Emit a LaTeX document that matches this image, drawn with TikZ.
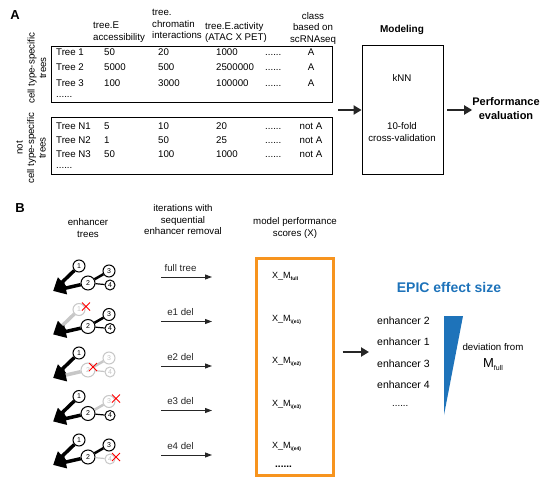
\documentclass[tikz,border=0pt]{standalone}
\usepackage{fontspec}
\setsansfont{Liberation Sans}
\usetikzlibrary{arrows.meta,shapes.misc}

\definecolor{epicorange}{RGB}{247,148,30}
\definecolor{epicblue}{RGB}{30,115,186}
\colorlet{gone}{black!22}

\tikzset{
  enh/.style={circle,draw,fill=white,line width=1pt,inner sep=0pt,
    minimum size=12pt,font=\sffamily\fontsize{7}{7}\selectfont},
  stem/.style={line width=3.5pt,-{Triangle[length=13pt,width=12pt,black]}},
  delx/.style={cross out,draw=red,line width=1pt,minimum size=7pt,inner sep=0pt},
  cell/.style={anchor=west,inner sep=0pt,text height=7pt,text depth=2pt},
  box/.style={draw,line width=0.8pt,inner sep=0pt},
  bigarrow/.style={line width=2pt,black!85,-{Triangle[length=8pt,width=9pt]}},
  flow/.style={line width=1pt,black!85,-{Triangle[length=7pt,width=5pt]}},
  head/.style={align=center,inner sep=0pt},
}

% name, y of enhancer 2, colours of enhancers 1-4
\newcommand\enhtree[6]{%
  \node[enh,draw=#3,text=#3] (#1-1) at (79,{#2-17}) {1};
  \node[enh,minimum size=14pt,draw=#4,text=#4] (#1-2) at (88,#2) {2};
  \node[enh,draw=#5,text=#5] (#1-3) at (109,{#2-12}) {3};
  \node[enh,minimum size=10pt,draw=#6,text=#6] (#1-4) at (110,{#2+2}) {4};
  \coordinate (#1-tip) at (53,{#2+8});
  \draw[stem,#3] (#1-1) -- (#1-tip);
  \draw[stem,#4] (#1-2) -- (#1-tip);
  \draw[line width=2.5pt,#5] (#1-2) -- (#1-3);
  \draw[line width=1.2pt,#6] (#1-2) -- (#1-4);
}
\newcommand\subm[1]{\raisebox{-2pt}{\fontsize{5}{5}\selectfont\bfseries #1}}

\begin{document}
\begin{tikzpicture}[x=1pt,y=-1pt,>=Latex,font=\sffamily\fontsize{9.7}{11.5}\selectfont]
\useasboundingbox (0,0) rectangle (547,495);

% ---- A ----
\node[font=\sffamily\bfseries\fontsize{13}{13}\selectfont] (lblA) at (15,15) {A};
\node[head,anchor=north west,align=left] (hacc) at (93,22) {tree.E\\accessibility};
\node[head,anchor=north west,align=left] (hchr) at (152,9.5) {tree.\\chromatin\\interactions};
\node[head,anchor=north west,align=left] (hact) at (205,22) {tree.E.activity\\(ATAC X PET)};
\node[head] (hcls) at (313,28) {class\\based on\\scRNAseq};

\node[box,minimum width=281pt,minimum height=56pt,anchor=north west] (posbox) at (51,46) {};
\node[box,minimum width=281pt,minimum height=57pt,anchor=north west] (negbox) at (51,117) {};
\node[rotate=90,head] (poslab) at (37,68) {cell type-specific\\trees};
\node[rotate=90,head] (neglab) at (31,148) {not\\cell type-specific\\trees};

\foreach \name/\acc/\chr/\act/\cls [count=\i] in {Tree 1/50/20/1000/A,
    Tree 2/5000/500/2500000/A,Tree 3/100/3000/100000/A}{
  \pgfmathsetmacro{\yr}{53+15.5*(\i-1)}
  \node[cell] (p\i-n) at (56,\yr) {\name};
  \node[cell] (p\i-a) at (104,\yr) {\acc};
  \node[cell] (p\i-b) at (158,\yr) {\chr};
  \node[cell] (p\i-c) at (216,\yr) {\act};
  \node[cell] (p\i-d) at (265,\yr) {......};
  \node[cell,anchor=center] (p\i-e) at (311,\yr) {\cls};
}
\node[cell] (pdots) at (56,95) {......};
\foreach \name/\acc/\chr/\act/\cls [count=\i] in {Tree N1/5/10/20/not A,
    Tree N2/1/50/25/not A,Tree N3/50/100/1000/not A}{
  \pgfmathsetmacro{\yr}{127+14*(\i-1)}
  \node[cell] (n\i-n) at (56,\yr) {\name};
  \node[cell] (n\i-a) at (104,\yr) {\acc};
  \node[cell] (n\i-b) at (158,\yr) {\chr};
  \node[cell] (n\i-c) at (216,\yr) {\act};
  \node[cell] (n\i-d) at (265,\yr) {......};
  \node[cell,anchor=center] (n\i-e) at (311,\yr) {\cls};
}
\node[cell] (ndots) at (56,166) {......};

\node[font=\sffamily\bfseries\fontsize{10}{12}\selectfont] (modlab) at (402,30) {Modeling};
\node[box,minimum width=81pt,minimum height=129pt] (model) at (402.5,109.5) {};
\node (knn) at (402,78) {kNN};
\node[head] (cv) at (402,132) {10-fold\\cross-validation};
\node[head,font=\sffamily\bfseries\fontsize{11}{14}\selectfont] (perf) at (506,109) {Performance\\evaluation};
\coordinate (join) at (338,110);
\draw[bigarrow] (join) -- (model.west |- join);
\draw[bigarrow,shorten <=4pt] (model.east |- join) -- (perf.west |- join);

% ---- B ----
\node[font=\sffamily\bfseries\fontsize{13}{13}\selectfont] (lblB) at (20,208) {B};
\node[head] (htree) at (88,228) {enhancer\\trees};
\node[head] (hiter) at (183,220) {iterations with\\sequential\\enhancer removal};
\node[head] (hscore) at (295,228) {model performance\\scores (X)};

\enhtree{t1}{283}{black}{black}{black}{black}
\enhtree{t2}{326.5}{gone}{black}{black}{black}
\enhtree{t3}{370}{black}{gone}{gone}{gone}
\enhtree{t4}{413.5}{black}{black}{gone}{black}
\enhtree{t5}{457}{black}{black}{black}{gone}
\node[delx] (t2-x) at ([shift={(7,-3)}]t2-1) {};
\node[delx] (t3-x) at ([shift={(5,-3)}]t3-2) {};
\node[delx] (t4-x) at ([shift={(7,-3)}]t4-3) {};
\node[delx] (t5-x) at ([shift={(6,-2)}]t5-4) {};

\foreach \lab [count=\i] in {full tree,e1 del,e2 del,e3 del,e4 del}{
  \pgfmathsetmacro{\ya}{277+44.5*(\i-1)}
  \coordinate (i\i-s) at (161,\ya);
  \coordinate (i\i-e) at (212,\ya);
  \draw[flow] (i\i-s) -- (i\i-e) node[midway,above=2pt,xshift=-6pt] (i\i-l) {\lab};
}

\node[draw=epicorange,line width=3pt,minimum width=77pt,minimum height=217pt,inner sep=0pt] (scores) at (294.5,367) {};
\foreach \s [count=\i] in {full,\textbackslash(e1),\textbackslash(e2),\textbackslash(e3),\textbackslash(e4)}{
  \pgfmathsetmacro{\ys}{276+42.5*(\i-1)}
  \node[cell,font=\sffamily\fontsize{9}{10}\selectfont] (s\i) at (272,\ys) {X\_M\subm{\s}};
}
\node[cell,font=\sffamily\bfseries] (sdots) at (275,465) {......};

\coordinate (rankin) at (369,352);
\draw[bigarrow,shorten <=8pt] (scores.east |- rankin) -- (rankin);

\node[font=\sffamily\bfseries\fontsize{14}{16}\selectfont,text=epicblue] (epic) at (449,287) {EPIC effect size};
\foreach \e [count=\i] in {2,1,3,4}{
  \pgfmathsetmacro{\yr}{322+21.3*(\i-1)}
  \node[cell,font=\sffamily\fontsize{10.5}{12}\selectfont] (r\i) at (377,\yr) {enhancer \e};
}
\node[cell] (rdots) at (392,404) {......};
\fill[epicblue] (444,316) -- (463,316) -- (444,415) -- cycle;
\node[head,font=\sffamily\fontsize{9.7}{17}\selectfont] (dev) at (493,357)
  {deviation from\\{\fontsize{13}{13}\selectfont M}\raisebox{-2.5pt}{\fontsize{7}{7}\selectfont full}};
\end{tikzpicture}
\end{document}
